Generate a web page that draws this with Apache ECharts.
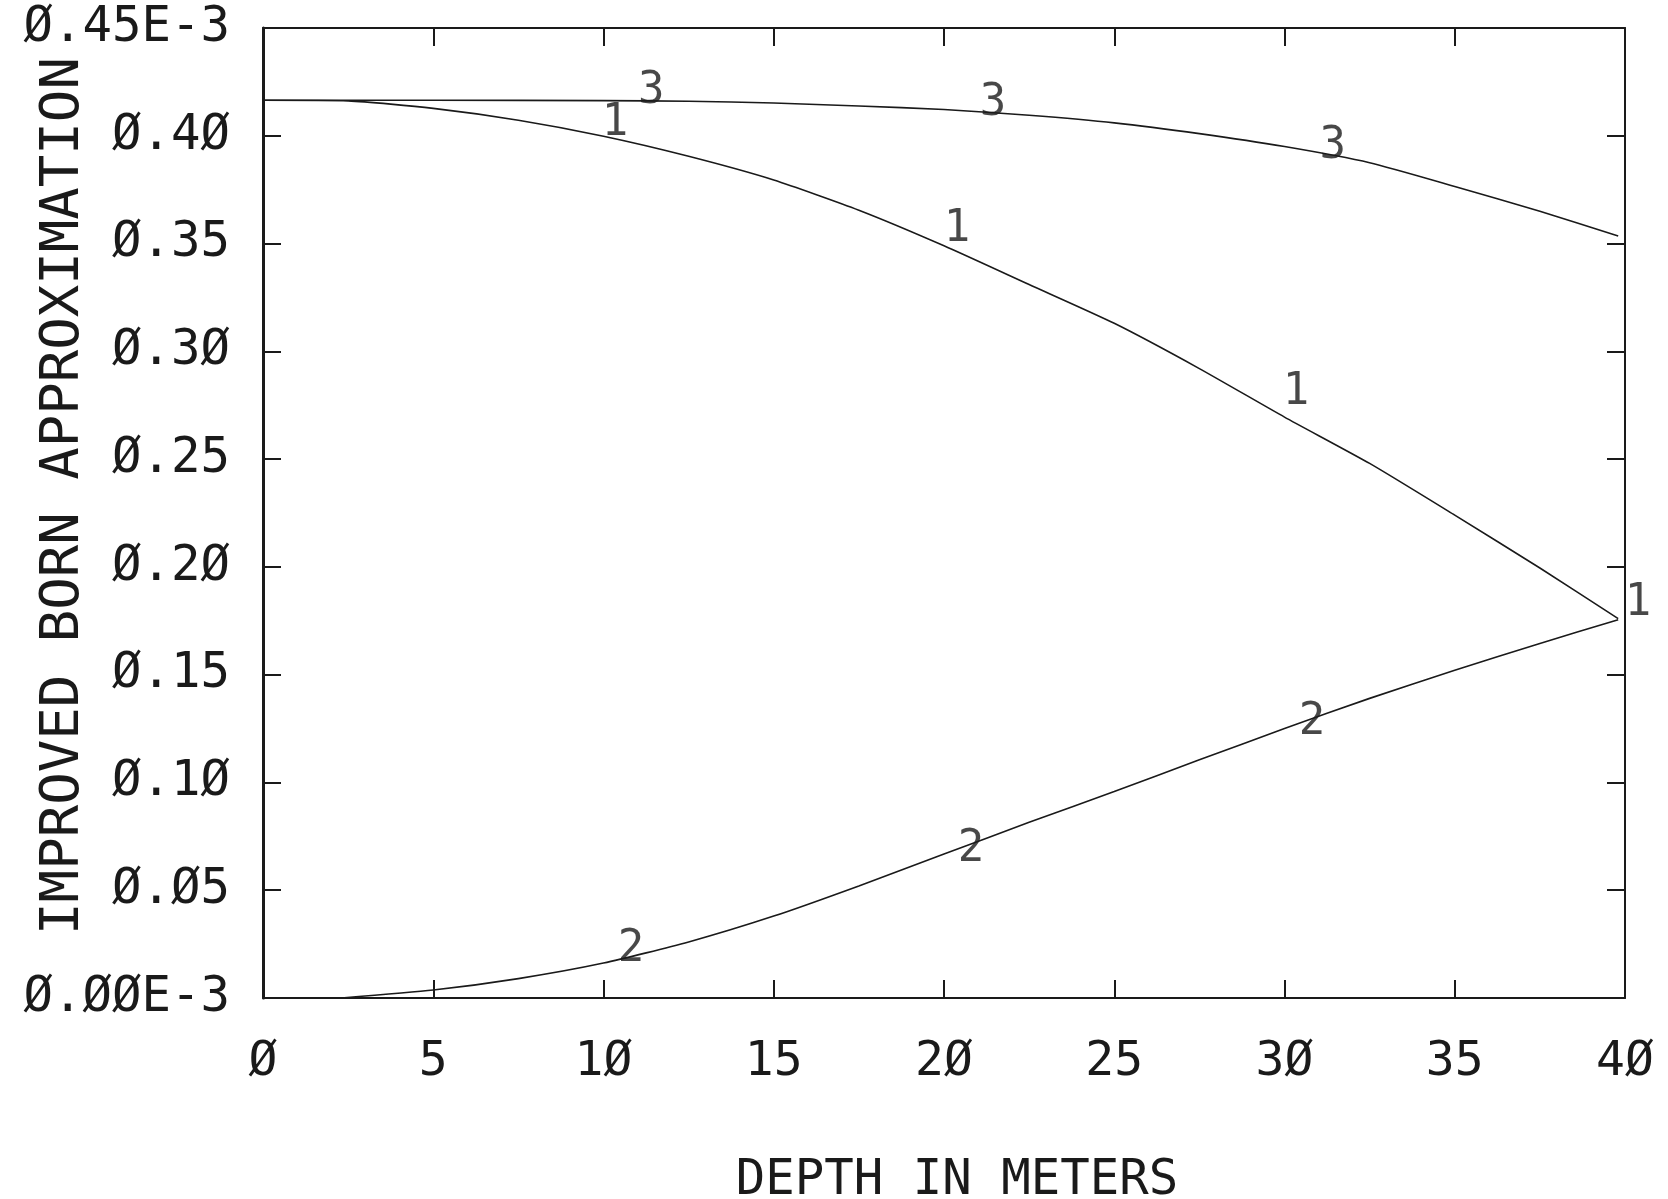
<!DOCTYPE html>
<html>
<head>
<meta charset="utf-8">
<script src="https://cdn.jsdelivr.net/npm/echarts@6/dist/echarts.min.js"></script>
<style>
html,body{margin:0;padding:0;background:#fff;}
#chart{width:1668px;height:1199px;}
</style>
</head>
<body>
<div id="chart"></div>
<script>
// Depth in meters
const depth1 = [0, 2.5, 5, 7.5, 10, 12.5, 15, 17.5, 20, 22.5, 25, 27.5, 30, 32.5, 35, 37.5, 39.8];
// Curve 1 (units of 1E-3)
const curve1 = [0.4165, 0.4162, 0.4127, 0.4072, 0.3998, 0.3905, 0.3795, 0.3655, 0.3490, 0.3310, 0.3130, 0.2920, 0.2695, 0.2480, 0.2240, 0.1995, 0.1760];
// Curve 2
const depth2 = [2.3, 5, 7.5, 10, 12.5, 15, 17.5, 20, 22.5, 25, 27.5, 30, 32.5, 35, 37.5, 39.8];
const curve2 = [0.0000, 0.0037, 0.0090, 0.0162, 0.0260, 0.0380, 0.0520, 0.0668, 0.0815, 0.0958, 0.1105, 0.1250, 0.1390, 0.1520, 0.1645, 0.1755];
// Curve 3
const depth3 = [0, 5, 10, 12.5, 15, 17.5, 20, 22.5, 25, 27.5, 30, 32.5, 35, 37.5, 39.8];
const curve3 = [0.4165, 0.4165, 0.4163, 0.4160, 0.4152, 0.4138, 0.4122, 0.4095, 0.4060, 0.4010, 0.3950, 0.3875, 0.3765, 0.3650, 0.3535];

// Curve annotation anchors [depth, value]
const labelPts1 = [[10.34, 0.3990], [20.38, 0.3502], [30.34, 0.2746], [40.38, 0.1767]];
const labelPts2 = [[10.81, 0.0162], [20.79, 0.0622], [30.81, 0.1211]];
const labelPts3 = [[11.40, 0.4165], [21.44, 0.4109], [31.42, 0.3910]];

const xTickLabels = ['Ø', '5', '1Ø', '15', '2Ø', '25', '3Ø', '35', '4Ø'];
const yTickLabels = ['Ø.ØØE-3', 'Ø.Ø5', 'Ø.1Ø', 'Ø.15', 'Ø.2Ø', 'Ø.25', 'Ø.3Ø', 'Ø.35', 'Ø.4Ø', 'Ø.45E-3'];

const xName = 'DEPTH IN METERS';
const yName = 'IMPROVED BORN APPROXIMATION';

const FONT = '"DejaVu Sans Mono", "Liberation Mono", monospace';
const INK = '#1a1a1a';

function zip(xs, ys) { return xs.map((x, i) => [x, ys[i]]); }

function labelSeries(pts, txt, dy) {
  return {
    type: 'scatter',
    symbolSize: 0,
    clip: false,
    silent: true,
    data: pts.map(p => ({ value: p })),
    label: {
      show: true,
      position: 'top',
      distance: 0,
      offset: [0, dy],
      formatter: txt,
      fontFamily: FONT,
      fontSize: 44,
      color: INK
    },
    z: 5
  };
}

const tick = { show: true, inside: true, length: 18, lineStyle: { color: INK, width: 2 } };

const chart = echarts.init(document.getElementById('chart'), null, { renderer: 'canvas' });
chart.setOption({
  backgroundColor: '#ffffff',
  animation: false,
  grid: { left: 263, right: 43, top: 28, bottom: 201, containLabel: false, outerBoundsMode: 'none' },
  xAxis: [
    {
      type: 'value', min: 0, max: 40, interval: 5, position: 'bottom',
      axisLine: { show: true, onZero: false, lineStyle: { color: INK, width: 2 } },
      axisTick: tick,
      splitLine: { show: false },
      axisLabel: {
        margin: 41, fontFamily: FONT, fontSize: 48, color: INK,
        formatter: v => xTickLabels[Math.round(v / 5)]
      },
      name: xName, nameLocation: 'middle', nameGap: 159, nameMoveOverlap: false,
      nameTextStyle: { fontFamily: FONT, fontSize: 49, color: INK, padding: [0, 0, 0, 26] }
    },
    {
      type: 'value', min: 0, max: 40, interval: 5, position: 'top',
      axisLine: { show: true, onZero: false, lineStyle: { color: INK, width: 2 } },
      axisTick: tick,
      splitLine: { show: false },
      axisLabel: { show: false }
    }
  ],
  yAxis: [
    {
      type: 'value', min: 0, max: 0.45, interval: 0.05, position: 'left',
      axisLine: { show: true, onZero: false, lineStyle: { color: INK, width: 3 } },
      axisTick: tick,
      splitLine: { show: false },
      axisLabel: {
        margin: 33, fontFamily: FONT, fontSize: 49, color: INK,
        formatter: v => yTickLabels[Math.round(v / 0.05)]
      },
      name: yName, nameLocation: 'middle', nameGap: 172, nameMoveOverlap: false,
      nameTextStyle: { fontFamily: FONT, fontSize: 54, color: INK, padding: [0, 0, 0, 34] }
    },
    {
      type: 'value', min: 0, max: 0.45, interval: 0.05, position: 'right',
      axisLine: { show: true, onZero: false, lineStyle: { color: INK, width: 2 } },
      axisTick: tick,
      splitLine: { show: false },
      axisLabel: { show: false }
    }
  ],
  series: [
    { type: 'line', data: zip(depth1, curve1), smooth: 0.2, showSymbol: false, lineStyle: { color: INK, width: 1.6 } },
    { type: 'line', data: zip(depth2, curve2), smooth: 0.2, showSymbol: false, lineStyle: { color: INK, width: 1.6 } },
    { type: 'line', data: zip(depth3, curve3), smooth: 0.2, showSymbol: false, lineStyle: { color: INK, width: 1.6 } },
    labelSeries(labelPts1, '1', 8),
    labelSeries(labelPts2, '2', 8),
    labelSeries(labelPts3, '3', 13)
  ]
});
</script>
</body>
</html>
